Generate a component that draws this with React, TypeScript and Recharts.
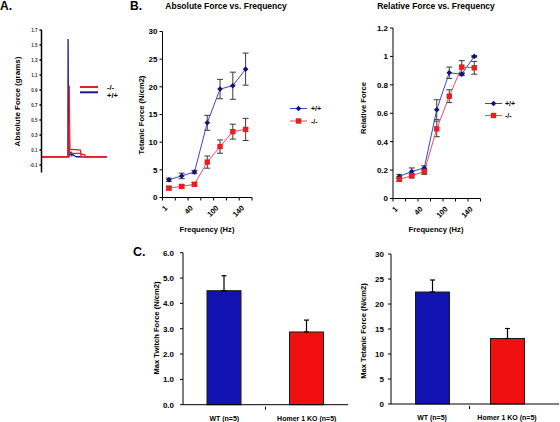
import { LineChart, Line, XAxis, YAxis, ErrorBar, BarChart, Bar } from 'recharts';

const FONT = '"Liberation Sans", Arial, Helvetica, sans-serif';
const WT_LINE = '#3a46c8';
const WT_MARK = '#10107e';
const KO_LINE = '#ee4a64';
const KO_MARK = '#ee1c1c';
const ERR = '#3a3a3a';

// A. single twitch traces (time in % of sweep, force in grams)
const wtTraceTime = [0, 40.3, 40.6, 41.3, 42.5, 43.5, 44.5, 45.5, 46.5, 47.5, 49, 51, 53, 100];
const wtTraceForce = [0.01, 0.01, 1.58, 0.08, 0.04, 0.07, 0.03, 0.06, 0.03, 0.05, 0.03, 0.02, 0.01, 0.01];
const koTraceTime = [0, 41.8, 42.4, 43.2, 59.5, 60.2, 66, 66.6, 100];
const koTraceForce = [0.01, 0.01, 0.96, 0.11, 0.1, 0.045, 0.04, 0.01, 0.01];
const koTrace2Time = [0, 41.8, 42.3, 43.1, 60, 60.5, 100];
const koTrace2Force = [0.01, 0.01, 0.45, 0.055, 0.055, 0.01, 0.01];
const traceTicks = [-0.1, 0.1, 0.3, 0.5, 0.7, 0.9, 1.1, 1.3, 1.5, 1.7];

// B. force-frequency (7 stimulation frequencies, every other one labelled)
const freqLabels = ['1', '', '40', '', '100', '', '140'];
const absWT = [3.2, 3.9, 4.6, 13.5, 19.6, 20.2, 23.2];
const absWTErr = [0.3, 0.5, 0.3, 1.35, 1.75, 2.45, 2.9];
const absKO = [1.7, 2.0, 2.4, 6.4, 9.2, 11.9, 12.3];
const absKOErr = [0.3, 0.3, 0.3, 1.1, 1.2, 1.35, 2.0];
const relWT = [0.155, 0.19, 0.215, 0.625, 0.885, 0.875, 1.0];
const relWTErr = [0.015, 0.025, 0.015, 0.07, 0.04, 0.01, 0.005];
const relKO = [0.135, 0.16, 0.19, 0.49, 0.72, 0.925, 0.92];
const relKOErr = [0.015, 0.015, 0.02, 0.055, 0.045, 0.045, 0.045];

// C. max force per group
const groups = ['WT (n=5)', 'Homer 1 KO (n=5)'];
const twitch = [4.5, 2.87];
const twitchErr = [0.59, 0.47];
const tetanic = [22.4, 13.1];
const tetanicErr = [2.4, 2.0];

const wtTrace = wtTraceTime.map((t, i) => ({ t, f: wtTraceForce[i] }));
const koTrace = koTraceTime.map((t, i) => ({ t, f: koTraceForce[i] }));
const koTrace2 = koTrace2Time.map((t, i) => ({ t, f: koTrace2Force[i] }));

const absData = absWT.map((v, i) => ({ i, wt: v, wtErr: absWTErr[i], ko: absKO[i], koErr: absKOErr[i] }));
const relData = relWT.map((v, i) => ({ i, wt: v, wtErr: relWTErr[i], ko: relKO[i], koErr: relKOErr[i] }));
const twitchData = groups.map((g, i) => ({ g, v: twitch[i], err: [0, twitchErr[i]] }));
const tetanicData = groups.map((g, i) => ({ g, v: tetanic[i], err: [0, tetanicErr[i]] }));

const boundaryTicks = [-0.5, 0.5, 1.5, 2.5, 3.5, 4.5, 5.5, 6.5];
const tickFont = { fontSize: 8, fontWeight: 700, fill: '#000', fontFamily: FONT };

const Diamond = (p: any) => {
  const { cx, cy, index } = p;
  if (cx == null || cy == null) return <g key={index} />;
  return <polygon key={index} points={`${cx},${cy - 2.8} ${cx + 2.8},${cy} ${cx},${cy + 2.8} ${cx - 2.8},${cy}`} fill={WT_MARK} />;
};

const Square = (p: any) => {
  const { cx, cy, index } = p;
  if (cx == null || cy == null) return <g key={index} />;
  return <rect key={index} x={cx - 2.7} y={cy - 2.7} width={5.4} height={5.4} fill={KO_MARK} />;
};

const makeFreqTick = (band: number) => (props: any) => {
  const { x, y, payload } = props;
  const label = freqLabels[Math.round(payload.value + 0.5)];
  if (!label) return <g />;
  const ax = x + band / 2 - 1;
  const ay = y + 6;
  return (
    <text x={ax} y={ay} transform={`rotate(-45 ${ax} ${ay})`} textAnchor="end" {...tickFont} fontSize={7.5}>
      {label}
    </text>
  );
};

const makeGroupTick = (band: number) => (props: any) => {
  const { x, y, payload, index } = props;
  return (
    <g>
      <text x={x} y={y + 14} textAnchor="middle" {...tickFont} fontSize={7}>
        {payload.value}
      </text>
      {index === 0 && <line x1={x + band / 2} y1={y} x2={x + band / 2} y2={y + 3} stroke="#000" />}
    </g>
  );
};

function TraceChart() {
  return (
    <LineChart width={115} height={185} margin={{ top: 30, right: 8, bottom: 12.5, left: 0 }}>
      <XAxis type="number" dataKey="t" domain={[0, 100]} hide />
      <YAxis
        type="number"
        domain={[-0.2, 1.7]}
        ticks={traceTicks}
        interval={0}
        width={41.5}
        tickSize={2}
        stroke="#000"
        strokeWidth={1.5}
        tick={{ fontSize: 4.5, fontWeight: 700, fill: '#333', fontFamily: FONT }}
        tickFormatter={(v: number) => v.toFixed(1)}
      />
      <Line data={wtTrace} dataKey="f" type="linear" stroke="#1a1a8a" strokeWidth={1.3} dot={false} isAnimationActive={false} />
      <Line data={koTrace2} dataKey="f" type="linear" stroke="#e0202a" strokeWidth={1.3} dot={false} isAnimationActive={false} />
      <Line data={koTrace} dataKey="f" type="linear" stroke="#e0202a" strokeWidth={1.3} dot={false} isAnimationActive={false} />
    </LineChart>
  );
}

function FreqChart({ data, width, height, margin, yWidth, domain, ticks, band, fmt }: any) {
  return (
    <LineChart width={width} height={height} margin={margin} data={data}>
      <XAxis
        type="number"
        dataKey="i"
        domain={[-0.5, 6.5]}
        ticks={boundaryTicks}
        interval={0}
        height={30}
        tickSize={3}
        stroke="#000"
        tick={makeFreqTick(band)}
      />
      <YAxis
        type="number"
        domain={domain}
        ticks={ticks}
        interval={0}
        width={yWidth}
        tickSize={3}
        stroke="#000"
        tick={tickFont}
        tickFormatter={fmt}
      />
      <Line dataKey="wt" type="linear" stroke={WT_LINE} strokeWidth={1} dot={Diamond} isAnimationActive={false}>
        <ErrorBar dataKey="wtErr" width={3} stroke={ERR} strokeWidth={1} isAnimationActive={false} />
      </Line>
      <Line dataKey="ko" type="linear" stroke={KO_LINE} strokeWidth={1} dot={Square} isAnimationActive={false}>
        <ErrorBar dataKey="koErr" width={3} stroke={ERR} strokeWidth={1} isAnimationActive={false} />
      </Line>
    </LineChart>
  );
}

function GroupChart({ data, width, height, margin, yWidth, domain, ticks, band, padding, fmt, tickMargin }: any) {
  return (
    <BarChart width={width} height={height} margin={margin} data={data}>
      <XAxis dataKey="g" height={17} tickSize={0} tickLine={false} stroke="#000" padding={padding} interval={0} tick={makeGroupTick(band)} />
      <YAxis
        type="number"
        domain={domain}
        ticks={ticks}
        interval={0}
        width={yWidth}
        tickSize={3}
        tickMargin={tickMargin}
        stroke="#000"
        tick={tickFont}
        tickFormatter={fmt}
      />
      <Bar dataKey="v" barSize={34} stroke="#1a1a1a" strokeWidth={1} isAnimationActive={false} shape={(p: any) => (
        <rect x={p.x} y={p.y} width={p.width} height={p.height} fill={p.index === 0 ? '#1212b0' : '#f01010'} stroke="#1a1a1a" strokeWidth={1} />
      )}>
        <ErrorBar dataKey="err" width={2.5} stroke="#000" strokeWidth={1.2} isAnimationActive={false} />
      </Bar>
    </BarChart>
  );
}

const T = ({ x, y, size, rot, anchor = 'middle', children }: any) => (
  <text
    x={x}
    y={y}
    fontSize={size}
    fontWeight={700}
    fontFamily={FONT}
    fill="#000"
    textAnchor={anchor}
    dominantBaseline="central"
    transform={rot ? `rotate(${rot} ${x} ${y})` : undefined}
  >
    {children}
  </text>
);

export default function App() {
  return (
    <div style={{ position: 'absolute', left: 0, top: 0, width: 560, height: 422, background: '#fff', overflow: 'hidden' }}>
      <div style={{ position: 'absolute', left: 0, top: 0 }}>
        <TraceChart />
      </div>
      <div style={{ position: 'absolute', left: 120, top: 0 }}>
        <FreqChart
          data={absData}
          width={140}
          height={240}
          margin={{ top: 31.5, right: 8, bottom: 12.5, left: 0 }}
          yWidth={42.5}
          domain={[0, 30]}
          ticks={[0, 5, 10, 15, 20, 25, 30]}
          band={89.5 / 7}
        />
      </div>
      <div style={{ position: 'absolute', left: 350, top: 0 }}>
        <FreqChart
          data={relData}
          width={140}
          height={240}
          margin={{ top: 28, right: 9.5, bottom: 11.5, left: 0 }}
          yWidth={43}
          domain={[0, 1.2]}
          ticks={[0, 0.2, 0.4, 0.6, 0.8, 1, 1.2]}
          band={87.5 / 7}
          fmt={(v: number) => String(Math.round(v * 10) / 10)}
        />
      </div>
      <div style={{ position: 'absolute', left: 130, top: 240 }}>
        <GroupChart
          data={twitchData}
          width={225}
          height={182}
          margin={{ top: 12.7, right: 7, bottom: 0.3, left: 0 }}
          yWidth={53}
          domain={[0, 6]}
          ticks={[0, 1, 2, 3, 4, 5, 6]}
          band={82.5}
          padding={{ left: 0, right: 0 }}
          tickMargin={6}
          fmt={(v: number) => v.toFixed(1)}
        />
      </div>
      <div style={{ position: 'absolute', left: 355, top: 240 }}>
        <GroupChart
          data={tetanicData}
          width={205}
          height={182}
          margin={{ top: 14, right: 1, bottom: 1, left: 0 }}
          yWidth={36}
          domain={[0, 30]}
          ticks={[0, 5, 10, 15, 20, 25, 30]}
          band={75}
          padding={{ left: 3.5, right: 14.5 }}
          tickMargin={4}
        />
      </div>

      <svg width={560} height={422} style={{ position: 'absolute', left: 0, top: 0, pointerEvents: 'none' }}>
        <T x={0} y={6} size={12} anchor="start">A.</T>
        <T x={130} y={6} size={12} anchor="start">B.</T>
        <T x={133} y={252} size={12.5} anchor="start">C.</T>
        <T x={226} y={5.5} size={8.5}>Absolute Force vs. Frequency</T>
        <T x={436} y={5.5} size={8.5}>Relative Force vs. Frequency</T>

        <T x={17} y={101.5} size={8} rot={-90}>Absolute Force (grams)</T>
        <T x={141} y={115} size={7.6} rot={-90}>Tetanic Force (N/cm2)</T>
        <T x={363} y={108} size={7.6} rot={-90}>Relative Force</T>
        <T x={207} y={229} size={7.6}>Frequency (Hz)</T>
        <T x={436} y={229} size={7.6}>Frequency (Hz)</T>
        <T x={156} y={328} size={7.6} rot={-90}>Max Twitch Force (N/cm2)</T>
        <T x={363} y={331} size={7.6} rot={-90}>Max Tetanic Force (N/cm2)</T>

        <line x1={80} y1={87} x2={98} y2={87} stroke="#e0202a" strokeWidth={2} />
        <line x1={80} y1={92.3} x2={98} y2={92.3} stroke="#1a1a8a" strokeWidth={2} />
        <T x={107} y={87.5} size={7.5} anchor="start">-/-</T>
        <T x={107} y={95} size={7.5} anchor="start">+/+</T>

        <line x1={290} y1={108.5} x2={307} y2={108.5} stroke={WT_LINE} strokeWidth={1} />
        <polygon points="298.5,105.7 301.3,108.5 298.5,111.3 295.7,108.5" fill={WT_MARK} />
        <T x={311} y={108.5} size={7} anchor="start">+/+</T>
        <line x1={290} y1={121} x2={307} y2={121} stroke={KO_LINE} strokeWidth={1} />
        <rect x={295.8} y={118.3} width={5.4} height={5.4} fill={KO_MARK} />
        <T x={311} y={121} size={7} anchor="start">-/-</T>

        <line x1={485} y1={103.5} x2={502} y2={103.5} stroke={WT_LINE} strokeWidth={1} />
        <polygon points="493.5,100.7 496.3,103.5 493.5,106.3 490.7,103.5" fill={WT_MARK} />
        <T x={505} y={103.5} size={7} anchor="start">+/+</T>
        <line x1={485} y1={115.5} x2={502} y2={115.5} stroke={KO_LINE} strokeWidth={1} />
        <rect x={490.8} y={112.8} width={5.4} height={5.4} fill={KO_MARK} />
        <T x={505} y={115.5} size={7} anchor="start">-/-</T>
      </svg>
    </div>
  );
}
